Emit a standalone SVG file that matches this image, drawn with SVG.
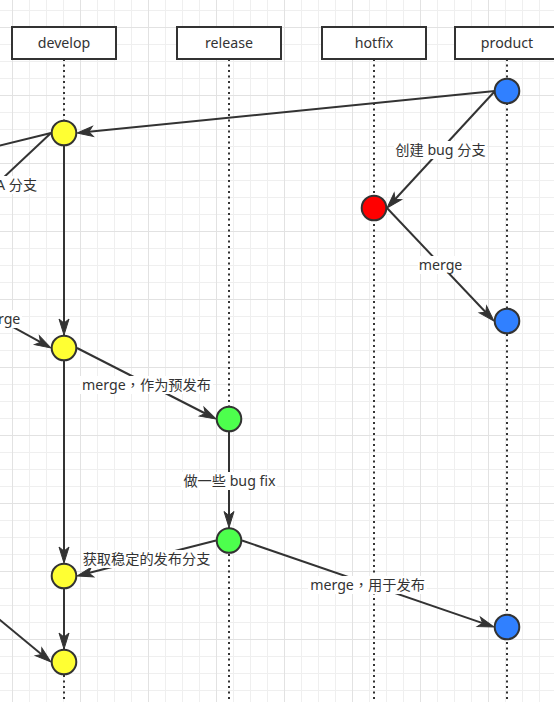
<svg xmlns="http://www.w3.org/2000/svg" width="554" height="702" viewBox="0 0 554 702">
<style>
.hdr{fill:#fff;stroke:#333;stroke-width:2}
.t{font-family:"Noto Sans","Noto Sans CJK SC",sans-serif;font-size:14.2px;fill:#333;text-anchor:middle}
.tc{font-family:"Noto Sans CJK TC",sans-serif}
.life{stroke:#333;stroke-width:2;stroke-dasharray:2 3.5;fill:none}
.e{stroke:#333;stroke-width:2;fill:none}
.ea{stroke:#333;stroke-width:2;fill:none;marker-end:url(#arr)}
.lb{fill:#fff}
.c{stroke:#333;stroke-width:2}
.y{fill:#ffff33}.g{fill:#4dff4d}.r{fill:#ff0000}.b{fill:#3080ff}
</style>
<defs>
<pattern id="grid" x="12" y="27" width="68" height="68" patternUnits="userSpaceOnUse">
<path d="M17.5 0V68M34.5 0V68M51.5 0V68M0 17.5H68M0 34.5H68M0 51.5H68" stroke="#efefef" stroke-width="1"/>
<path d="M0.5 0V68M0 0.5H68" stroke="#e2e2e2" stroke-width="1"/>
</pattern>
<marker id="arr" markerUnits="userSpaceOnUse" markerWidth="18" markerHeight="13" viewBox="0 0 18 13" refX="4" refY="6.5" orient="auto" overflow="visible">
<path d="M16,6.5 L0,1.5 L4,6.5 L0,11.5 Z" fill="#333" stroke="#333" stroke-width="1" stroke-linejoin="miter"/>
</marker>
</defs>
<rect width="554" height="702" fill="#fff"/>
<rect width="554" height="702" fill="url(#grid)"/>

<g id="lifelines">
<path class="life" d="M64 59V702"/>
<path class="life" d="M229 59V702"/>
<path class="life" d="M374 59V702"/>
<path class="life" d="M507 59V702"/>
</g>

<g id="develop"><rect class="hdr" x="12" y="27" width="104" height="32"/><text class="t" x="64" y="48">develop</text></g>
<g id="release"><rect class="hdr" x="177" y="27" width="104" height="32"/><text class="t" x="229" y="48">release</text></g>
<g id="hotfix"><rect class="hdr" x="322" y="27" width="104" height="32"/><text class="t" x="374" y="48">hotfix</text></g>
<g id="product"><rect class="hdr" x="455" y="27" width="104" height="32"/><text class="t" x="507" y="48">product</text></g>

<g id="connectors">
<path class="ea" d="M495 91L88.9 131.8"/>
<path class="ea" d="M495 91L395.1 199.2"/>
<path class="ea" d="M387 208L485.7 312.3"/>
<path class="ea" d="M64 146V323"/>
<path class="e" d="M51 133L-50 157.6"/>
<path class="e" d="M51 133L-30 209"/>
<path class="ea" d="M-60 287L40.5 342.2"/>
<path class="ea" d="M77 348L205.3 413.5"/>
<path class="ea" d="M229 432V515.5"/>
<path class="ea" d="M64 361V551"/>
<path class="ea" d="M216 540.5L88.6 573"/>
<path class="ea" d="M242 540.5L482.6 623.1"/>
<path class="ea" d="M64 589V637"/>
<path class="ea" d="M-40 587L41.7 654.4"/>

<rect class="lb" x="394" y="141" width="93" height="18"/>
<text class="t" x="440.5" y="155">创建 bug 分支</text>
<rect class="lb" x="418" y="256" width="45" height="18"/>
<text class="t" x="440.5" y="270">merge</text>
<rect class="lb" x="-10" y="176" width="47" height="18"/>
<text class="t" x="-4" y="190" style="text-anchor:start">A 分支</text>
<rect class="lb" x="-25" y="310" width="47" height="18"/>
<text class="t" x="-1.5" y="323.5">merge</text>
<rect class="lb" x="80" y="376" width="133" height="18"/>
<text class="t" x="146.5" y="390">merge<tspan class="tc">，</tspan>作为预发布</text>
<rect class="lb" x="181" y="472" width="96" height="18"/>
<text class="t" x="229.5" y="486">做一些 bug fix</text>
<rect class="lb" x="81" y="550" width="131" height="18"/>
<text class="t" x="146.5" y="564">获取稳定的发布分支</text>
<rect class="lb" x="308" y="576" width="119" height="18"/>
<text class="t" x="367.5" y="590">merge<tspan class="tc">，</tspan>用于发布</text>
</g>

<g id="p1"><circle class="c b" cx="507" cy="91" r="12.3"/></g>
<g id="d1"><circle class="c y" cx="64" cy="133" r="12.3"/></g>
<g id="h1"><circle class="c r" cx="374" cy="208" r="12.3"/></g>
<g id="p2"><circle class="c b" cx="507" cy="321" r="12.3"/></g>
<g id="d2"><circle class="c y" cx="64" cy="348" r="12.3"/></g>
<g id="r1"><circle class="c g" cx="229" cy="419" r="12.3"/></g>
<g id="r2"><circle class="c g" cx="229" cy="540.5" r="12.3"/></g>
<g id="d3"><circle class="c y" cx="64" cy="576" r="12.3"/></g>
<g id="p3"><circle class="c b" cx="507" cy="627" r="12.3"/></g>
<g id="d4"><circle class="c y" cx="64" cy="662" r="12.3"/></g>
</svg>
